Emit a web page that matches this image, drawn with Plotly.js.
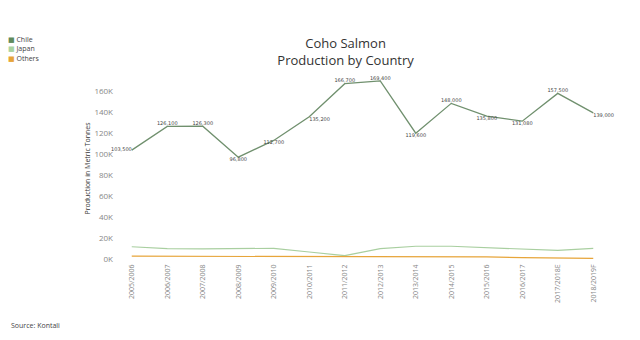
<!DOCTYPE html>
<html><head><meta charset="utf-8">
<script src="https://cdn.plot.ly/plotly-3.0.1.min.js"></script>
<style>html,body{margin:0;padding:0;background:#fff}#c{width:640px;height:340px}</style>
</head><body><div id="c"></div>
<script>
const seasons = ["2005/2006","2006/2007","2007/2008","2008/2009","2009/2010","2010/2011","2011/2012","2012/2013","2013/2014","2014/2015","2015/2016","2016/2017","2017/2018E","2018/2019F"];
const chile = [103500,126100,126300,96800,112700,135200,166700,169400,119600,148000,135800,131080,157500,139000];
const japan = [11500,9800,9500,9500,10000,6500,3000,9800,12000,12000,10500,9500,8000,10000];
const others = [2500,2500,2500,2500,2500,2500,2500,2500,2400,2300,1800,1200,900,500];
const yTickVals = [0,20000,40000,60000,80000,100000,120000,140000,160000];
const yTickText = ["0K","20K","40K","60K","80K","100K","120K","140K","160K"];
const seriesNames = ["Chile","Japan","Others"];
const seriesColors = ["#5f8a5c","#a9d3a0","#e7a53a"];

const labelPos = ["middle left","top center","top center","bottom center","bottom center","bottom right","top center","top center","bottom center","top center","bottom center","bottom center","top center","bottom right"];

const traces = [
  {x: seasons, y: chile, name: seriesNames[0], type: "scatter", mode: "lines+text", cliponaxis: false,
   line: {color: "#70906e", width: 1.3},
   texttemplate: "%{y:,.0f}", textposition: labelPos,
   textfont: {family: "DejaVu Sans", size: 5, color: "#444"}},
  {x: seasons, y: japan, name: seriesNames[1], type: "scatter", mode: "lines",
   line: {color: "#a9cfa0", width: 1.2}},
  {x: seasons, y: others, name: seriesNames[2], type: "scatter", mode: "lines",
   line: {color: "#e7a53a", width: 1.2}}
];

const annotations = [
  {text: "Source: Kontali", xref: "paper", yref: "paper", x: -0.212, y: -0.34, xanchor: "left", yanchor: "middle",
   showarrow: false, font: {size: 7, color: "#444"}}
];
seriesNames.forEach((n, i) => {
  annotations.push({
    text: '<span style="color:' + seriesColors[i] + '">■</span> ' + n,
    xref: "paper", yref: "paper", x: -0.218, y: 1.19 - i * 0.05, xanchor: "left", yanchor: "middle",
    showarrow: false, font: {size: 7, color: "#444"}
  });
});

const layout = {
  width: 640, height: 340,
  margin: {l: 114, r: 29, t: 75, b: 78},
  paper_bgcolor: "#fff", plot_bgcolor: "#fff",
  font: {family: "Open Sans, DejaVu Sans", color: "#777"},
  title: {text: "Coho Salmon<br>Production by Country", x: 0.54, xanchor: "center", y: 0.86, yanchor: "middle",
          font: {family: "Open Sans, DejaVu Sans", size: 13, color: "#333"}},
  showlegend: false,
  xaxis: {type: "category", range: [-0.5, 13.5], showgrid: false, zeroline: false, showline: false,
          tickangle: -90, tickfont: {size: 7, color: "#888"}, ticks: "", fixedrange: true},
  yaxis: {range: [-3000, 175000], tickvals: yTickVals, ticktext: yTickText, showgrid: false,
          zeroline: false, showline: false, tickfont: {size: 8, color: "#888"}, ticks: "",
          title: {text: "Production in Metric Tonnes", font: {size: 7, color: "#333"}, standoff: 2}},
  annotations: annotations
};
Plotly.newPlot("c", traces, layout, {displayModeBar: false, staticPlot: true});
</script></body></html>
